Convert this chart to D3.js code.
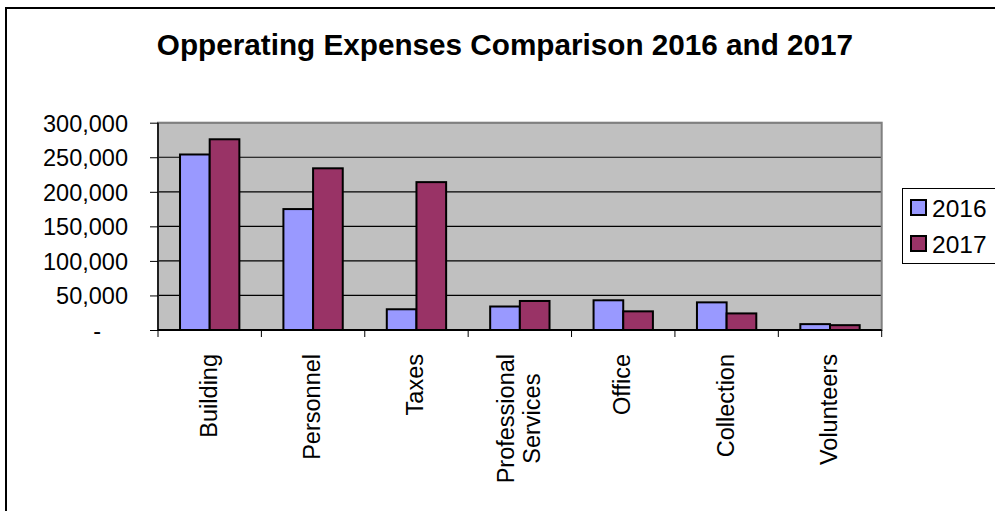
<!DOCTYPE html>
<html><head><meta charset="utf-8">
<script src="https://cdn.jsdelivr.net/npm/d3@7"></script>
<style>html,body{margin:0;padding:0;background:#fff;overflow:hidden}svg{display:block}text{font-family:"Liberation Sans",Arial,sans-serif}</style>
</head><body>
<svg id="c" width="995" height="511"></svg>
<script>
const categories = ["Building","Personnel","Taxes","Professional\nServices","Office","Collection","Volunteers"];
const seriesNames = ["2016","2017"];
const values2016 = [254000,175000,30000,34000,43000,40000,8500];
const values2017 = [276000,234000,214000,42000,27000,24000,7000];
const yTicks = [0,50000,100000,150000,200000,250000,300000];
const colors = ["#9999FF","#993366"];
const title = "Opperating Expenses Comparison 2016 and 2017";

const svg = d3.select("#c");
const L = 158, R = 881.7, T = 122.7, B = 330;

// outer chart border
svg.append("rect").attr("x",6).attr("y",8).attr("width",1010).attr("height",530)
  .attr("fill","#fff").attr("stroke","#000").attr("stroke-width",2);

svg.append("text").attr("x",505).attr("y",55).attr("text-anchor","middle")
  .attr("font-size","29.7px").attr("font-weight","bold").text(title);

const x = d3.scaleBand().domain(categories).range([L,R]).padding(0);
const y = d3.scaleLinear().domain([0,300000]).range([B,T]);
const sub = d3.scaleBand().domain(seriesNames).range([x.bandwidth()*0.213, x.bandwidth()*0.787]).padding(0);

// plot background
svg.append("rect").attr("x",L).attr("y",T).attr("width",R-L).attr("height",B-T)
  .attr("fill","#C0C0C0");

// gridlines
svg.append("g").selectAll("line").data(yTicks.filter(d=>d>0)).join("line")
  .attr("x1",L).attr("x2",R).attr("y1",d=>y(d)).attr("y2",d=>y(d))
  .attr("stroke","#000").attr("stroke-width",1.2);

// plot border
svg.append("rect").attr("x",L).attr("y",T).attr("width",R-L).attr("height",B-T)
  .attr("fill","none").attr("stroke","#808080").attr("stroke-width",2);

// bars
const data = categories.map((c,i)=>({c, vals:[values2016[i], values2017[i]]}));
const g = svg.append("g").selectAll("g").data(data).join("g")
  .attr("transform",d=>`translate(${x(d.c)},0)`);
g.selectAll("rect").data(d=>d.vals.map((v,j)=>({v,s:seriesNames[j],j}))).join("rect")
  .attr("x",d=>sub(d.s)).attr("width",sub.bandwidth())
  .attr("y",d=>y(d.v)).attr("height",d=>B-y(d.v))
  .attr("fill",d=>colors[d.j]).attr("stroke","#000").attr("stroke-width",2);

// axes lines
svg.append("line").attr("x1",L).attr("x2",L).attr("y1",T).attr("y2",B).attr("stroke","#000").attr("stroke-width",1.5);
svg.append("line").attr("x1",L).attr("x2",R).attr("y1",B).attr("y2",B).attr("stroke","#000").attr("stroke-width",2);

// y axis ticks and labels
const yAxis = d3.axisLeft(y).tickValues(yTicks).tickSize(8).tickFormat(d=> d===0 ? "-" : d3.format(",")(d));
const ya = svg.append("g").attr("transform",`translate(${L},0)`).call(yAxis);
ya.select(".domain").remove();
ya.selectAll(".tick line").attr("stroke","#000");
ya.selectAll(".tick text").attr("font-size","23.5px").attr("fill","#000")
  .attr("font-family",'"Liberation Sans",Arial,sans-serif')
  .attr("x",d=> d===0 ? -57 : -30).attr("dy","0.36em");

// x axis ticks (at category boundaries)
const bounds = categories.map(c=>x(c)).concat([R]);
svg.append("g").selectAll("line").data(bounds).join("line")
  .attr("x1",d=>d).attr("x2",d=>d).attr("y1",B).attr("y2",B+7)
  .attr("stroke","#000").attr("stroke-width",1);

// x labels, rotated
const labTop = 354, lineGap = 26;
categories.forEach(c=>{
  const lines = c.split("\n");
  const cx = x(c) + x.bandwidth()/2;
  const grp = svg.append("g");
  const texts = lines.map((ln,k)=>grp.append("text").attr("font-size","23.5px").attr("text-anchor","middle").text(ln));
  const maxLen = d3.max(texts.map(t=>t.node().getComputedTextLength()));
  const cy = labTop + maxLen/2;
  texts.forEach((t,k)=>{
    const off = (k - (lines.length-1)/2)*lineGap;
    const px = cx + off + 7;
    t.attr("transform",`translate(${px},${cy}) rotate(-90)`);
  });
});

// legend
svg.append("rect").attr("x",902.5).attr("y",188.5).attr("width",100).attr("height",75)
  .attr("fill","#fff").attr("stroke","#000").attr("stroke-width",1);
const lg = svg.append("g").selectAll("g").data(seriesNames).join("g")
  .attr("transform",(d,i)=>`translate(911,${200+i*36})`);
lg.append("rect").attr("width",15).attr("height",15).attr("fill",(d,i)=>colors[i])
  .attr("stroke","#000").attr("stroke-width",2);
lg.append("text").attr("x",21).attr("y",16.5).attr("font-size","24.5px").text(d=>d);
</script>
</body></html>
